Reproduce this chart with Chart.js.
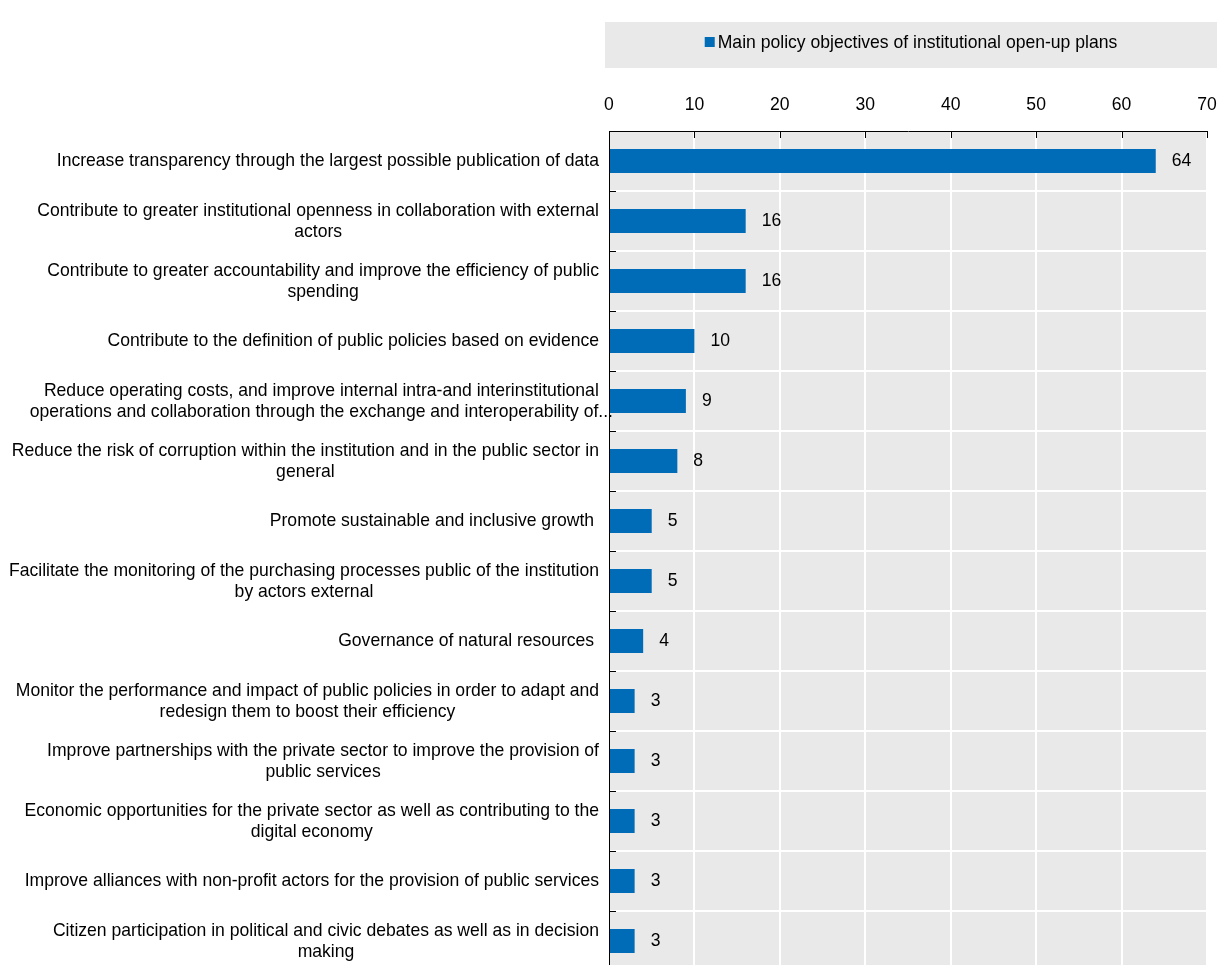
<!DOCTYPE html>
<html>
<head>
<meta charset="utf-8">
<script src="https://cdn.jsdelivr.net/npm/chart.js@4"></script>
<style>
  html, body { margin: 0; padding: 0; background: #fff; }
  body { height: 965px; overflow: hidden; }
  /* the last band runs a few pixels past the bottom of the window */
  #wrap { width: 1218px; height: 971px; position: relative; }
</style>
</head>
<body>
<div id="wrap"><canvas id="chart"></canvas></div>
<script>
var FONT = "'Liberation Sans', Arial, sans-serif";
var FONT_SIZE = 18.5;
var SX = 0.95; // squeeze text horizontally a little

var objectives = [
  ['Increase transparency through the largest possible publication of data'],
  ['Contribute to greater institutional openness in collaboration with external', 'actors'],
  ['Contribute to greater accountability and improve the efficiency of public', 'spending'],
  ['Contribute to the definition of public policies based on evidence'],
  ['Reduce operating costs, and improve internal intra-and interinstitutional', 'operations and collaboration through the exchange and interoperability of...'],
  ['Reduce the risk of corruption within the institution and in the public sector in', 'general'],
  ['Promote sustainable and inclusive growth '],
  ['Facilitate the monitoring of the purchasing processes public of the institution', 'by actors external'],
  ['Governance of natural resources '],
  ['Monitor the performance and impact of public policies in order to adapt and', 'redesign them to boost their efficiency'],
  ['Improve partnerships with the private sector to improve the provision of', 'public services'],
  ['Economic opportunities for the private sector as well as contributing to the', 'digital economy'],
  ['Improve alliances with non-profit actors for the provision of public services'],
  ['Citizen participation in political and civic debates as well as in decision', 'making']
];
var counts = [64, 16, 16, 10, 9, 8, 5, 5, 4, 3, 3, 3, 3, 3];
var seriesName = 'Main policy objectives of institutional open-up plans';
var xTicks = [0, 10, 20, 30, 40, 50, 60, 70];

var BLUE = '#006bb6';
var PANEL = '#e9e9e9';

function setFont(ctx) {
  ctx.font = FONT_SIZE + 'px ' + FONT;
  ctx.fillStyle = '#000';
  ctx.textBaseline = 'middle';
}

function textWidth(ctx, s) {
  return ctx.measureText(s).width * SX;
}

function drawText(ctx, s, x, y, align) {
  ctx.save();
  ctx.translate(x, y);
  ctx.scale(SX, 1);
  ctx.textAlign = align;
  ctx.fillText(s, 0, 0);
  ctx.restore();
}

// grey panel behind the plot and the legend strip, plus the legend itself
var panels = {
  id: 'panels',
  beforeDraw: function (chart) {
    var ctx = chart.ctx, a = chart.chartArea;
    ctx.save();
    ctx.fillStyle = PANEL;
    ctx.fillRect(a.left, a.top, a.right - a.left, a.bottom - a.top);
    ctx.fillRect(a.left - 4, 22, 612, 46);
    ctx.restore();
  },
  afterDraw: function (chart) {
    var ctx = chart.ctx, a = chart.chartArea;
    var ds = chart.data.datasets[0];
    ctx.save();
    setFont(ctx);
    var tw = textWidth(ctx, ds.label);
    var cx = a.left - 4 + 306;
    var x0 = cx - (tw + 13) / 2;
    ctx.fillStyle = ds.backgroundColor;
    ctx.fillRect(x0, 37, 10, 10);
    ctx.fillStyle = '#000';
    drawText(ctx, ds.label, x0 + 13, 43, 'left');
    ctx.restore();
  }
};

// x tick labels and the short inner tick marks on both axes
var axisMarks = {
  id: 'axisMarks',
  afterDatasetsDraw: function (chart) {
    var ctx = chart.ctx, a = chart.chartArea;
    var xs = chart.scales.x, ys = chart.scales.y;
    var half = (ys.getPixelForValue(1) - ys.getPixelForValue(0)) / 2;
    ctx.save();
    ctx.strokeStyle = '#000';
    ctx.lineWidth = 1;
    ctx.beginPath();
    xTicks.forEach(function (v) {
      var px = Math.round(xs.getPixelForValue(v)) + 0.5;
      ctx.moveTo(px, a.top);
      ctx.lineTo(px, a.top + 7);
    });
    for (var i = 0; i < objectives.length; i++) {
      var py = Math.round(ys.getPixelForValue(i) + half) + 0.5;
      ctx.moveTo(a.left, py);
      ctx.lineTo(a.left + 7, py);
    }
    ctx.stroke();
    setFont(ctx);
    xTicks.forEach(function (v) {
      drawText(ctx, String(v), xs.getPixelForValue(v), 105, 'center');
    });
    ctx.restore();
  }
};

// category labels, each block right-aligned with its lines centred
var categoryLabels = {
  id: 'categoryLabels',
  afterDraw: function (chart) {
    var ctx = chart.ctx, ys = chart.scales.y;
    var right = chart.chartArea.left - 10;
    var lh = 21;
    ctx.save();
    setFont(ctx);
    objectives.forEach(function (lines, i) {
      var w = 0;
      lines.forEach(function (s) { w = Math.max(w, textWidth(ctx, s)); });
      var cx = right - w / 2;
      if (i === 4) cx += 14;
      var y0 = ys.getPixelForValue(i) - (lines.length - 1) * lh / 2;
      lines.forEach(function (s, k) { drawText(ctx, s, cx, y0 + k * lh, 'center'); });
    });
    ctx.restore();
  }
};

// value printed just past the end of each bar
var barValues = {
  id: 'barValues',
  afterDatasetsDraw: function (chart) {
    var ctx = chart.ctx;
    var meta = chart.getDatasetMeta(0);
    ctx.save();
    setFont(ctx);
    meta.data.forEach(function (bar, i) {
      drawText(ctx, String(counts[i]), bar.x + 16, bar.y, 'left');
    });
    ctx.restore();
  }
};

new Chart(document.getElementById('chart').getContext('2d'), {
  type: 'bar',
  data: {
    labels: objectives,
    datasets: [{
      label: seriesName,
      data: counts,
      backgroundColor: BLUE,
      borderWidth: 0,
      categoryPercentage: 1,
      barPercentage: 0.4
    }]
  },
  options: {
    indexAxis: 'y',
    responsive: true,
    maintainAspectRatio: false,
    animation: false,
    layout: { padding: { top: 0, right: 11, bottom: 0, left: 0 } },
    plugins: {
      legend: { display: false },
      tooltip: { enabled: false }
    },
    scales: {
      x: {
        position: 'top',
        min: 0,
        max: 70,
        afterFit: function (scale) { scale.height = 131; },
        afterBuildTicks: function (scale) {
          scale.ticks = xTicks.map(function (v) { return { value: v }; });
        },
        ticks: { display: false },
        grid: { color: '#fff', lineWidth: 2, drawTicks: false },
        border: { display: true, color: '#000', width: 1 }
      },
      y: {
        afterFit: function (scale) { scale.width = 609; },
        ticks: { display: false },
        grid: { color: '#fff', lineWidth: 2, drawTicks: false, offset: true },
        border: { display: true, color: '#000', width: 1 }
      }
    }
  },
  plugins: [panels, axisMarks, categoryLabels, barValues]
});
</script>
</body>
</html>
